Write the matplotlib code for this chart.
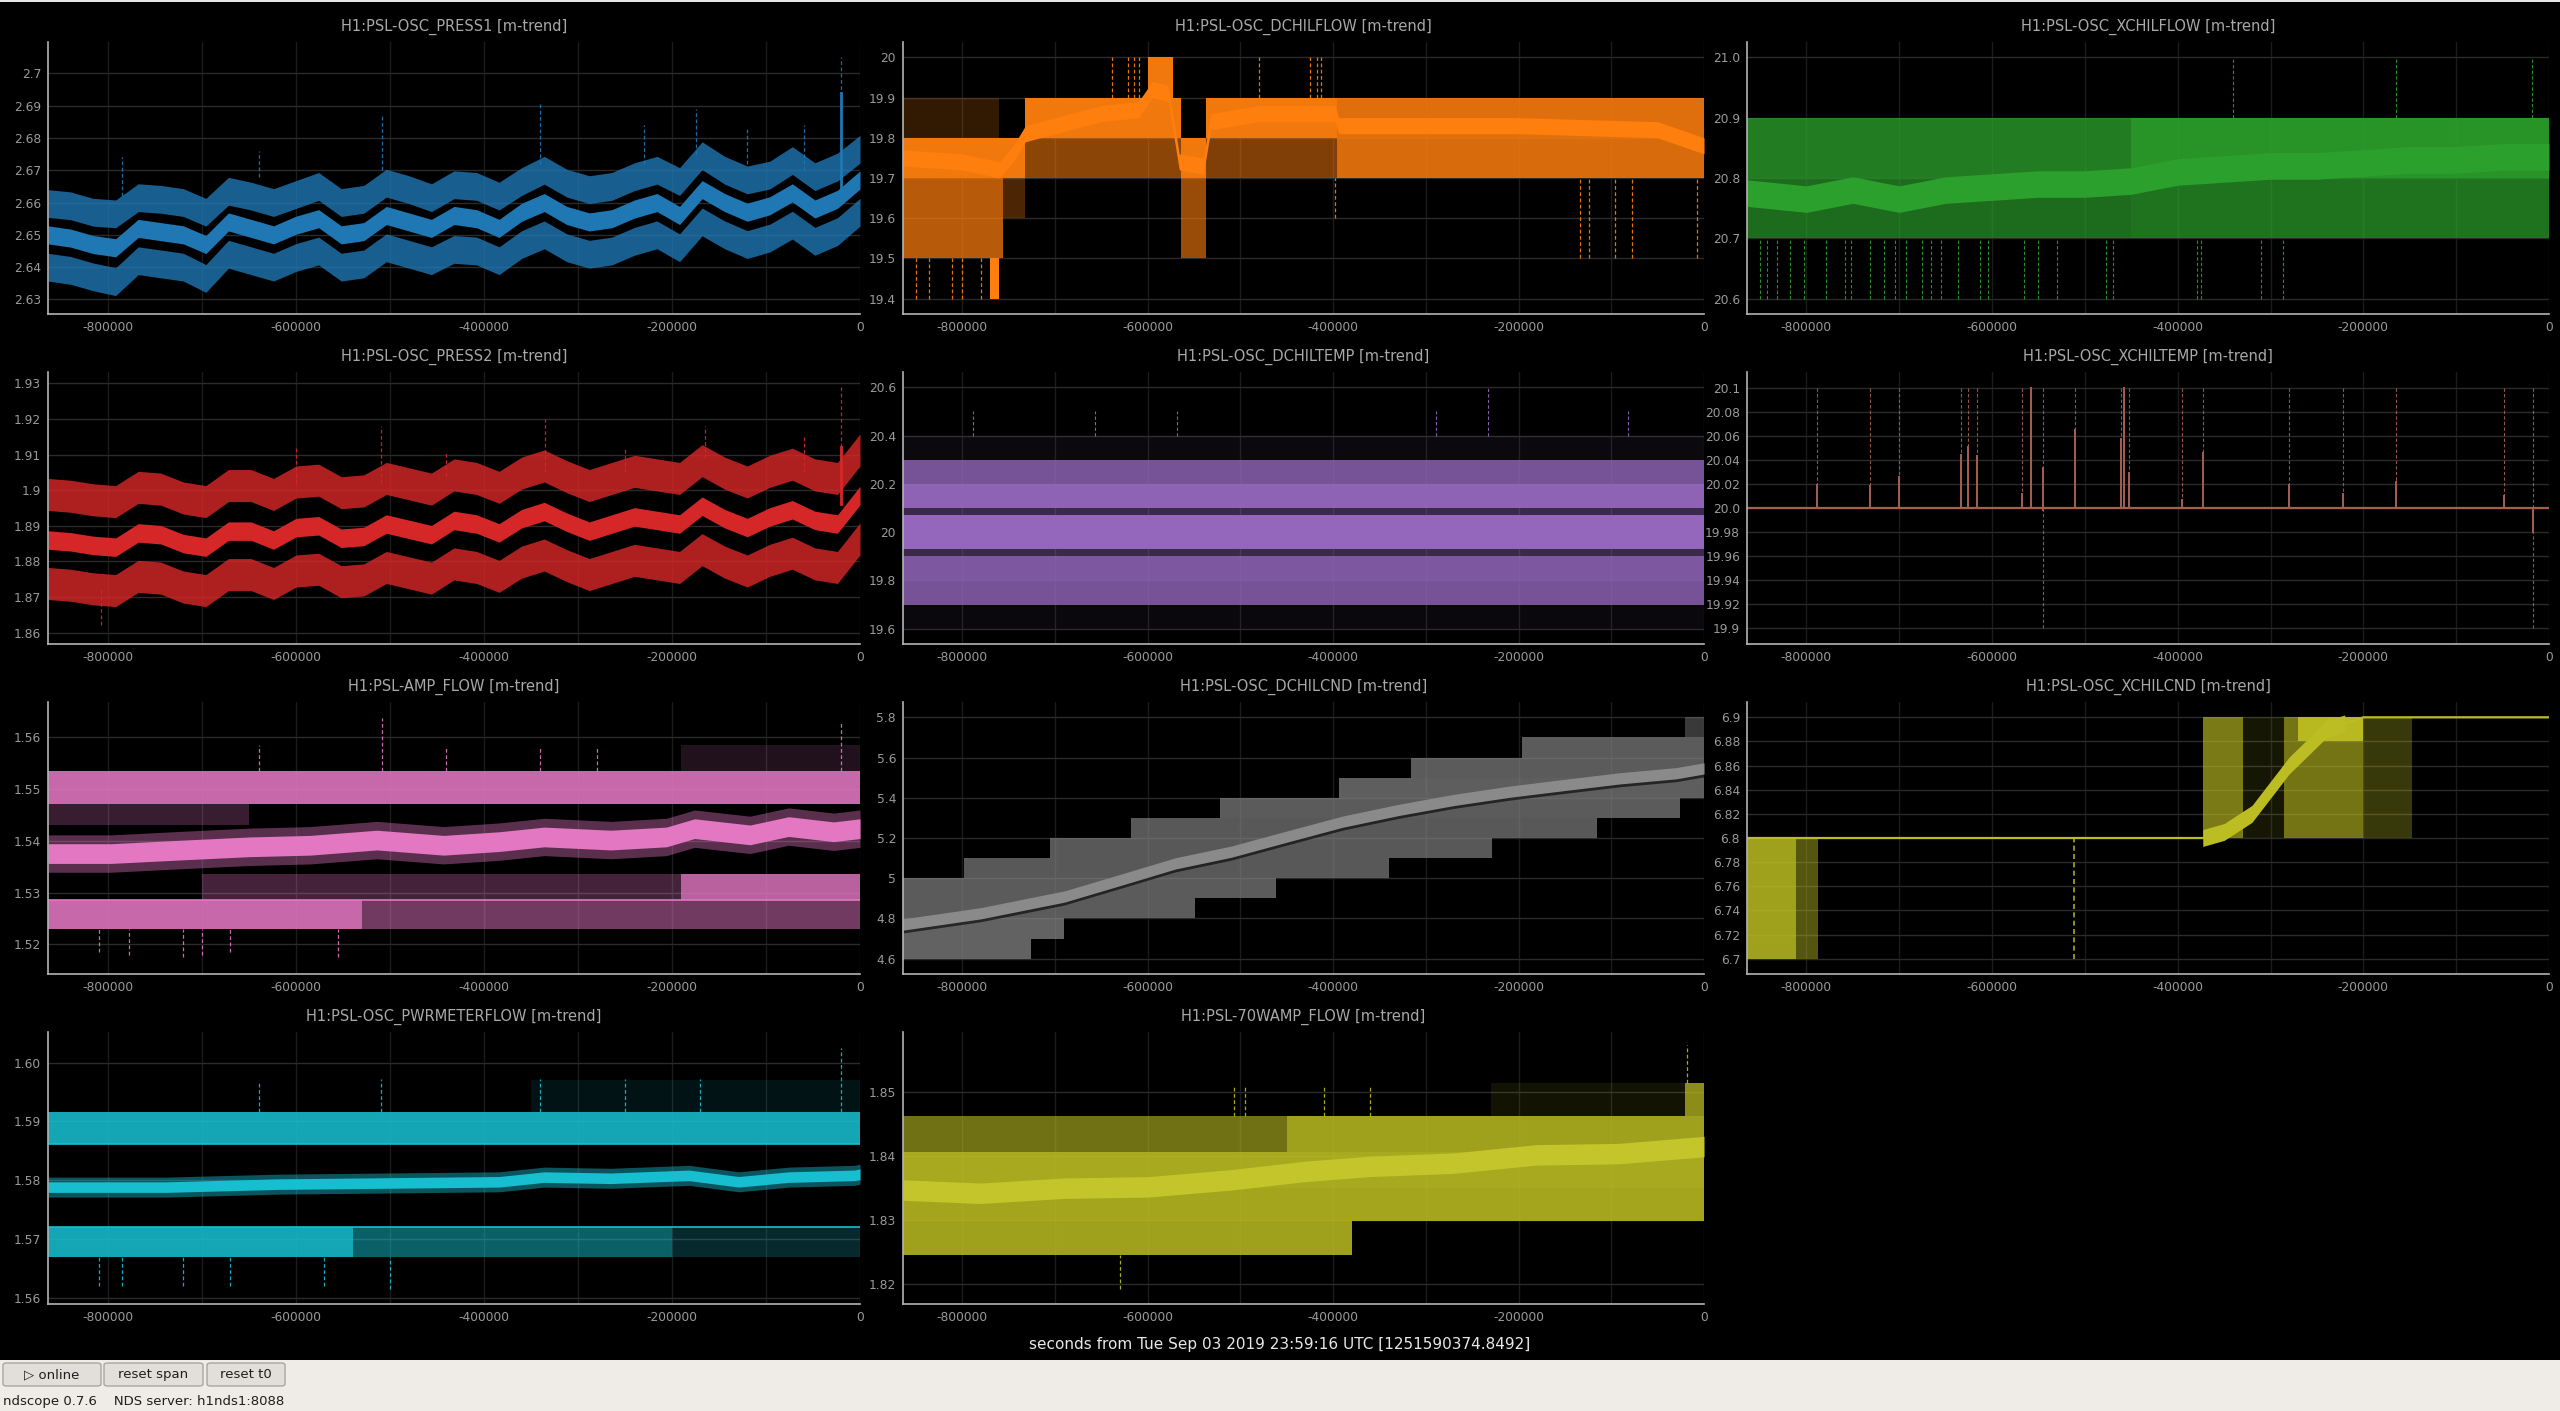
import matplotlib
matplotlib.use("Agg")
import matplotlib.pyplot as plt
from matplotlib.patches import Rectangle, FancyBboxPatch

plt.rcParams['font.family'] = ['DejaVu Sans']

# ---------------------------------------------------------------- data
T_K = [-864, -840, -816, -792, -768, -744, -720, -696, -672, -648, -624, -600,
       -576, -552, -528, -504, -480, -456, -432, -408, -384, -360, -336, -312,
       -288, -264, -240, -216, -192, -168, -144, -120, -96, -72, -48, -24, 0]
T_SPAN = [-864000, 0]
X_TICKS = [-800000, -600000, -400000, -200000, 0]
X_TICK_LABELS = ['-800000', '-600000', '-400000', '-200000', '0']
X_GRID = [-800000, -700000, -600000, -500000, -400000, -300000, -200000, -100000]
X_LABEL = 'seconds from Tue Sep 03 2019 23:59:16 UTC [1251590374.8492]'

# PRESS1 (m-trend: mean / max / min)
PRESS1_MEAN = [2.650, 2.649, 2.647, 2.646, 2.652, 2.651, 2.650, 2.647, 2.654, 2.652, 2.650, 2.653,
               2.655, 2.650, 2.651, 2.656, 2.654, 2.652, 2.656, 2.655, 2.652, 2.657, 2.660, 2.656,
               2.654, 2.655, 2.658, 2.660, 2.656, 2.664, 2.660, 2.657, 2.659, 2.663, 2.658, 2.661, 2.667]
PRESS1_MAX = [2.6597, 2.6590, 2.6570, 2.6565, 2.6615, 2.6610, 2.6600, 2.6570, 2.6635, 2.6620, 2.6600, 2.6625,
              2.6650, 2.6600, 2.6610, 2.6660, 2.6640, 2.6615, 2.6655, 2.6650, 2.6620, 2.6665, 2.6700, 2.6660,
              2.6640, 2.6650, 2.6680, 2.6700, 2.6665, 2.6745, 2.6700, 2.6670, 2.6685, 2.6730, 2.6680, 2.6710, 2.6765]
PRESS1_MIN = [2.6400, 2.6390, 2.6370, 2.6355, 2.6420, 2.6410, 2.6400, 2.6365, 2.6440, 2.6420, 2.6400, 2.6430,
              2.6450, 2.6400, 2.6410, 2.6460, 2.6440, 2.6420, 2.6455, 2.6450, 2.6420, 2.6470, 2.6500, 2.6460,
              2.6440, 2.6450, 2.6480, 2.6500, 2.6460, 2.6540, 2.6500, 2.6470, 2.6490, 2.6530, 2.6480, 2.6510, 2.6570]
PRESS1_SPIKES = [(-20000, 2.668, 2.705), (-509000, 2.670, 2.687), (-340000, 2.672, 2.691),
                 (-175000, 2.675, 2.689), (-60000, 2.670, 2.684), (-785000, 2.662, 2.674),
                 (-640000, 2.668, 2.676), (-230000, 2.672, 2.684), (-120000, 2.672, 2.683)]
PRESS1_TICKS = [2.63, 2.64, 2.65, 2.66, 2.67, 2.68, 2.69, 2.70]
PRESS1_LABELS = ['2.63', '2.64', '2.65', '2.66', '2.67', '2.68', '2.69', '2.7']

# PRESS2
PRESS2_MEAN = [1.8860, 1.8855, 1.8845, 1.8840, 1.8880, 1.8875, 1.8850, 1.8840, 1.8885, 1.8885, 1.8860, 1.8895,
               1.8900, 1.8865, 1.8870, 1.8905, 1.8890, 1.8875, 1.8915, 1.8905, 1.8880, 1.8920, 1.8940, 1.8910,
               1.8885, 1.8905, 1.8925, 1.8915, 1.8905, 1.8955, 1.8920, 1.8895, 1.8925, 1.8945, 1.8915, 1.8905, 1.8985]
PRESS2_MAX = [1.8988, 1.8983, 1.8973, 1.8968, 1.9008, 1.9003, 1.8978, 1.8968, 1.9013, 1.9013, 1.8988, 1.9023,
              1.9028, 1.8993, 1.8998, 1.9033, 1.9018, 1.9003, 1.9043, 1.9033, 1.9008, 1.9048, 1.9068, 1.9038,
              1.9013, 1.9033, 1.9053, 1.9043, 1.9033, 1.9083, 1.9048, 1.9023, 1.9053, 1.9073, 1.9043, 1.9033, 1.9113]
PRESS2_MIN = [1.8738, 1.8733, 1.8723, 1.8718, 1.8758, 1.8753, 1.8728, 1.8718, 1.8763, 1.8763, 1.8738, 1.8773,
              1.8778, 1.8743, 1.8748, 1.8783, 1.8768, 1.8753, 1.8793, 1.8783, 1.8758, 1.8798, 1.8818, 1.8788,
              1.8763, 1.8783, 1.8803, 1.8793, 1.8783, 1.8833, 1.8798, 1.8773, 1.8803, 1.8823, 1.8793, 1.8783, 1.8863]
PRESS2_SPIKES = [(-20000, 1.898, 1.929), (-510000, 1.902, 1.918), (-335000, 1.905, 1.920),
                 (-165000, 1.909, 1.918), (-808000, 1.862, 1.872), (-60000, 1.905, 1.915),
                 (-600000, 1.902, 1.912), (-440000, 1.904, 1.911), (-250000, 1.905, 1.912)]
PRESS2_TICKS = [1.86, 1.87, 1.88, 1.89, 1.90, 1.91, 1.92, 1.93]
PRESS2_LABELS = ['1.86', '1.87', '1.88', '1.89', '1.9', '1.91', '1.92', '1.93']

# DCHILFLOW: bands (t0, t1, lo, hi) and how densely they are filled
DCHILFLOW_BANDS = [(-864000, -756000, 19.5, 19.7), (-864000, -732000, 19.7, 19.8),
                   (-864000, -760000, 19.8, 19.9), (-732000, -564000, 19.7, 19.8),
                   (-732000, -564000, 19.8, 19.9), (-600000, -573000, 19.9, 20.0),
                   (-564000, -537000, 19.7, 19.8), (-564000, -537000, 19.5, 19.7),
                   (-537000, -396000, 19.8, 19.9), (-537000, -396000, 19.7, 19.8),
                   (-396000, 0, 19.8, 19.9), (-396000, 0, 19.7, 19.8),
                   (-770000, -760000, 19.4, 19.5), (-756000, -732000, 19.6, 19.7)]
DCHILFLOW_DENSITY = [0.72, 0.95, 0.2, 0.55, 0.95, 0.95, 0.95, 0.6, 0.95, 0.5, 0.88, 0.85, 1.0, 0.3]
DCHILFLOW_MEAN_T = [-864000, -800000, -760000, -745000, -732000, -700000, -650000, -610000, -595000, -578000,
                    -566000, -540000, -532000, -480000, -420000, -398000, -394000, -200000, -50000, 0]
DCHILFLOW_MEAN_V = [19.75, 19.74, 19.72, 19.76, 19.81, 19.83, 19.86, 19.87, 19.92, 19.91,
                    19.74, 19.73, 19.84, 19.86, 19.86, 19.86, 19.83, 19.83, 19.82, 19.78]
DCHILFLOW_SPIKES = [(-639000, 19.9, 20.0), (-621000, 19.9, 20.0), (-615000, 19.9, 20.0), (-609000, 19.9, 20.0),
                    (-480500, 19.9, 20.0), (-425400, 19.9, 20.0), (-417600, 19.9, 20.0), (-413500, 19.9, 20.0),
                    (-133400, 19.5, 19.7), (-124400, 19.5, 19.7), (-95700, 19.5, 19.7), (-77700, 19.5, 19.7),
                    (-7800, 19.5, 19.7), (-397900, 19.6, 19.7), (-850000, 19.4, 19.5), (-836000, 19.4, 19.5),
                    (-811000, 19.4, 19.5), (-800500, 19.4, 19.5), (-779600, 19.4, 19.5)]
DCHILFLOW_TICKS = [19.4, 19.5, 19.6, 19.7, 19.8, 19.9, 20.0]
DCHILFLOW_LABELS = ['19.4', '19.5', '19.6', '19.7', '19.8', '19.9', '20']

# XCHILFLOW
XCHILFLOW_BANDS = [(-864000, -450000, 20.8, 20.9), (-864000, -450000, 20.7, 20.8),
                   (-450000, 0, 20.8, 20.9), (-450000, 0, 20.7, 20.8)]
XCHILFLOW_DENSITY = [0.78, 0.68, 0.93, 0.72]
XCHILFLOW_MEAN_T = [-864000, -800000, -750000, -700000, -650000, -600000, -550000, -500000, -450000,
                    -400000, -350000, -300000, -250000, -200000, -150000, -100000, -50000, 0]
XCHILFLOW_MEAN_V = [20.775, 20.765, 20.78, 20.765, 20.78, 20.785, 20.79, 20.79, 20.795,
                    20.81, 20.815, 20.82, 20.82, 20.825, 20.83, 20.83, 20.835, 20.835]
XCHILFLOW_SPIKES = [(-340000, 20.9, 21.0), (-165000, 20.9, 21.0), (-18000, 20.9, 21.0)] + \
    [(t, 20.6, 20.7) for t in (-849800, -842700, -832000, -817300, -802500, -778800, -758000, -752200,
                               -731400, -716600, -704800, -693000, -675200, -666300, -654500, -636800,
                               -613100, -604200, -566000, -551000, -530200, -477000, -469900, -379300,
                               -375200, -310100, -286400)]
XCHILFLOW_TICKS = [20.6, 20.7, 20.8, 20.9, 21.0]
XCHILFLOW_LABELS = ['20.6', '20.7', '20.8', '20.9', '21.0']

# DCHILTEMP (full-width quantised bands)
DCHILTEMP_LO = [20.3, 20.2, 20.1, 20.07, 19.93, 19.9, 19.8, 19.7, 19.6]
DCHILTEMP_HI = [20.4, 20.3, 20.2, 20.1, 20.07, 19.93, 19.9, 19.8, 19.7]
DCHILTEMP_DENSITY = [0.08, 0.8, 0.97, 0.4, 1.0, 0.4, 0.85, 0.8, 0.07]
DCHILTEMP_SPIKES = [(-788000, 20.4, 20.5), (-657000, 20.4, 20.5), (-568800, 20.4, 20.5),
                    (-289600, 20.4, 20.5), (-232800, 20.4, 20.6), (-82000, 20.4, 20.5)]
DCHILTEMP_TICKS = [19.6, 19.8, 20.0, 20.2, 20.4, 20.6]
DCHILTEMP_LABELS = ['19.6', '19.8', '20', '20.2', '20.4', '20.6']

# XCHILTEMP: flat 20.0 with spikes
XCHILTEMP_LEVEL = 20.0
XCHILTEMP_SPIKE_T = [-788500, -731100, -700400, -633300, -625400, -615700, -568000, -558300, -544600, -510500,
                     -461600, -457600, -452500, -395100, -372400, -280300, -222300, -164900, -48900, -17600]
XCHILTEMP_SPIKE_TOP = [20.019, 20.018, 20.026, 20.044, 20.051, 20.043, 20.012, 20.1, 20.033, 20.065,
                       20.057, 20.1, 20.029, 20.007, 20.046, 20.019, 20.012, 20.022, 20.01, 20.0]
XCHILTEMP_MAX = 20.1
XCHILTEMP_DOWN_T = [-544600, -17600]
XCHILTEMP_DOWN_BOTTOM = [19.998, 19.98]
XCHILTEMP_MIN = 19.9
XCHILTEMP_TICKS = [19.90, 19.92, 19.94, 19.96, 19.98, 20.00, 20.02, 20.04, 20.06, 20.08, 20.10]
XCHILTEMP_LABELS = ['19.9', '19.92', '19.94', '19.96', '19.98', '20.0', '20.02', '20.04', '20.06', '20.08', '20.1']

# AMP_FLOW
AMP_BANDS = [(-864000, 0, 1.5470, 1.5535), (-864000, -650000, 1.5430, 1.5470),
             (-864000, -530000, 1.5230, 1.5285), (-530000, 0, 1.5230, 1.5285),
             (-700000, -190000, 1.5285, 1.5335), (-190000, 0, 1.5285, 1.5335),
             (-190000, 0, 1.5535, 1.5585)]
AMP_DENSITY = [0.88, 0.25, 0.88, 0.5, 0.3, 0.82, 0.15]
AMP_MEAN_T = [-864000, -797000, -720000, -650000, -585000, -514000, -443000, -384000,
              -336000, -265000, -206000, -176000, -117000, -76000, -28000, 0]
AMP_MEAN_V = [1.5375, 1.5375, 1.5382, 1.5388, 1.5391, 1.5401, 1.5391, 1.5398,
              1.5407, 1.5401, 1.5407, 1.5423, 1.5411, 1.5427, 1.5417, 1.5423]
AMP_SPIKES = [(-509000, 1.5535, 1.5637), (-20000, 1.5535, 1.5630), (-640000, 1.5535, 1.5585),
              (-810000, 1.5185, 1.5230), (-778000, 1.5180, 1.5230), (-720000, 1.5175, 1.5230),
              (-700000, 1.5180, 1.5230), (-670000, 1.5185, 1.5230), (-555000, 1.5175, 1.5230),
              (-440000, 1.5535, 1.5580), (-340000, 1.5535, 1.5582), (-280000, 1.5535, 1.5580)]
AMP_TICKS = [1.52, 1.53, 1.54, 1.55, 1.56]
AMP_LABELS = ['1.52', '1.53', '1.54', '1.55', '1.56']

# DCHILCND: staircase of quantised min/max bands and a rising mean
DCHILCND_BANDS = [(-864000, -726000, 4.6, 4.7), (-864000, -690000, 4.7, 4.8), (-864000, -549000, 4.8, 4.9),
                  (-864000, -462000, 4.9, 5.0), (-798000, -340000, 5.0, 5.1), (-705000, -229000, 5.1, 5.2),
                  (-618000, -115000, 5.2, 5.3), (-522000, -26000, 5.3, 5.4), (-394000, 0, 5.4, 5.5),
                  (-316000, 0, 5.5, 5.6), (-196000, 0, 5.6, 5.7), (-20000, 0, 5.7, 5.8)]
DCHILCND_DENSITY = [0.78, 0.78, 0.72, 0.72, 0.7, 0.7, 0.7, 0.72, 0.75, 0.72, 0.72, 0.45]
DCHILCND_MEAN_T = [-864000, -780000, -690000, -630000, -570000, -510000, -450000, -390000,
                   -330000, -270000, -210000, -150000, -90000, -30000, 0]
DCHILCND_MEAN_V = [4.77, 4.826, 4.909, 4.991, 5.074, 5.132, 5.207, 5.281,
                   5.339, 5.389, 5.43, 5.464, 5.497, 5.522, 5.546]
DCHILCND_TICKS = [4.6, 4.8, 5.0, 5.2, 5.4, 5.6, 5.8]
DCHILCND_LABELS = ['4.6', '4.8', '5', '5.2', '5.4', '5.6', '5.8']

# XCHILCND
XCHILCND_BANDS = [(-864000, -811000, 6.70, 6.80), (-811000, -788000, 6.70, 6.80),
                  (-373000, -330000, 6.80, 6.90), (-330000, -285000, 6.80, 6.90),
                  (-285000, -200000, 6.80, 6.90), (-200000, -148000, 6.80, 6.90),
                  (-270000, -200000, 6.88, 6.90)]
XCHILCND_DENSITY = [0.85, 0.45, 0.65, 0.12, 0.62, 0.3, 0.95]
XCHILCND_MEAN_T = [-864000, -373000, -350000, -320000, -300000, -280000, -260000, -240000, -220000, -200000, 0]
XCHILCND_MEAN_V = [6.80, 6.80, 6.805, 6.82, 6.84, 6.86, 6.875, 6.89, 6.895, 6.90, 6.90]
XCHILCND_SPIKES = [(-512000, 6.70, 6.80)]
XCHILCND_TICKS = [6.70, 6.72, 6.74, 6.76, 6.78, 6.80, 6.82, 6.84, 6.86, 6.88, 6.90]
XCHILCND_LABELS = ['6.7', '6.72', '6.74', '6.76', '6.78', '6.8', '6.82', '6.84', '6.86', '6.88', '6.9']

# PWRMETERFLOW
PWR_BANDS = [(-864000, 0, 1.5861, 1.5916), (-864000, -540000, 1.5669, 1.5720),
             (-540000, -200000, 1.5669, 1.5720), (-200000, 0, 1.5669, 1.5720),
             (-350000, 0, 1.5916, 1.5970)]
PWR_DENSITY = [0.88, 0.88, 0.5, 0.22, 0.1]
PWR_MEAN_T = [-864000, -738000, -620000, -502000, -384000, -336000, -265000, -182000, -129000, -76000, -6000, 0]
PWR_MEAN_V = [1.5788, 1.5788, 1.5793, 1.5795, 1.5797, 1.5805, 1.5803, 1.5808, 1.5797, 1.5805, 1.5808, 1.5810]
PWR_SPIKES = [(-20000, 1.5916, 1.6025), (-640000, 1.5916, 1.5965), (-510000, 1.5916, 1.5972),
              (-810000, 1.562, 1.5669), (-785000, 1.562, 1.5669), (-720000, 1.562, 1.5669),
              (-670000, 1.562, 1.5669), (-570000, 1.562, 1.5669), (-500000, 1.5615, 1.5669),
              (-340000, 1.5916, 1.5972), (-250000, 1.5916, 1.5972), (-170000, 1.5916, 1.5972)]
PWR_TICKS = [1.56, 1.57, 1.58, 1.59, 1.60]
PWR_LABELS = ['1.56', '1.57', '1.58', '1.59', '1.60']

# 70WAMP_FLOW
W70_BANDS = [(-864000, -450000, 1.8406, 1.8461), (-450000, 0, 1.8406, 1.8461),
             (-864000, 0, 1.8349, 1.8406), (-864000, 0, 1.8297, 1.8349),
             (-864000, -380000, 1.8244, 1.8297), (-20000, 0, 1.8461, 1.8513),
             (-230000, -20000, 1.8461, 1.8513)]
W70_DENSITY = [0.6, 0.85, 0.9, 0.88, 0.85, 0.75, 0.1]
W70_MEAN_T = [-864000, -780000, -690000, -600000, -510000, -432000, -361000, -271000, -181000, -92000, 0]
W70_MEAN_V = [1.8346, 1.8341, 1.8349, 1.8351, 1.8362, 1.8375, 1.8383, 1.8388, 1.8401, 1.8403, 1.8414]
W70_SPIKES = [(-630000, 1.8192, 1.8244), (-18000, 1.8513, 1.8573), (-507000, 1.8461, 1.8510),
              (-495000, 1.8461, 1.8510), (-410000, 1.8461, 1.8510), (-360000, 1.8461, 1.8510)]
W70_TICKS = [1.82, 1.83, 1.84, 1.85]
W70_LABELS = ['1.82', '1.83', '1.84', '1.85']

# ---------------------------------------------------------------- colours
BLUE, ORANGE, GREEN, RED = '#1f77b4', '#ff7f0e', '#2ca02c', '#d62728'
PURPLE, BROWN, PINK, GRAY = '#9467bd', '#a55f52', '#e377c2', '#7f7f7f'
OLIVE, CYAN = '#bcbd22', '#17becf'

# ---------------------------------------------------------------- layout
W, H = 2560, 1411
fig = plt.figure(figsize=(W / 100, H / 100), dpi=100, facecolor='black')
COL_X = [(48, 860), (903, 1704), (1747, 2549)]
ROW_Y = [(42, 314), (372, 644), (702, 974), (1032, 1304)]

T = [k * 1000 for k in T_K]


def make_axes(col, row, title, ylim, yticks, ylabels):
    l, r = COL_X[col]
    t, b = ROW_Y[row]
    ax = fig.add_axes([l / W, 1 - b / H, (r - l) / W, (b - t) / H])
    ax.set_facecolor('black')
    ax.set_xlim(T_SPAN)
    ax.set_ylim(ylim)
    ax.set_xticks(X_TICKS)
    ax.set_xticklabels(X_TICK_LABELS)
    ax.set_xticks(X_GRID, minor=True)
    ax.set_yticks(yticks)
    ax.set_yticklabels(ylabels)
    ax.tick_params(which='both', length=0, colors='#9a9a9a', labelsize=8.8, pad=5)
    for s in ('top', 'right'):
        ax.spines[s].set_visible(False)
    for s in ('left', 'bottom'):
        ax.spines[s].set_color('#b4b4b4')
        ax.spines[s].set_linewidth(1.2)
    ax.set_axisbelow(True)
    ax.grid(which='both', axis='x', color='#1c1c1c', lw=1)
    ax.grid(which='major', axis='y', color='#2a2a2a', lw=1)
    fig.text((l + r) / 2 / W, 1 - (t - 15) / H, title, ha='center', va='center',
             color='#a8a8a8', fontsize=10.5)
    return ax


def bands(ax, spec, dens, color):
    for (t0, t1, lo, hi), a in zip(spec, dens):
        ax.fill_between([t0, t1], [lo, lo], [hi, hi], color=color, alpha=a, lw=0)


def spikes(ax, spec, color, lw=0.9):
    for t, y0, y1 in spec:
        ax.plot([t, t], [y0, y1], color=color, lw=lw, ls=(0, (3, 2)), alpha=0.9)


def wavy(ax, center, hw, color, alpha):
    lo = [c - hw for c in center]
    hi = [c + hw for c in center]
    ax.fill_between(T, lo, hi, color=color, alpha=alpha, lw=0)


def mean_band(ax, ts, vs, hw, color, alpha=1.0):
    ax.fill_between(ts, [v - hw for v in vs], [v + hw for v in vs], color=color, alpha=alpha, lw=0)


# ---- row 0
ax = make_axes(0, 0, 'H1:PSL-OSC_PRESS1 [m-trend]', (2.6255, 2.7097), PRESS1_TICKS, PRESS1_LABELS)
wavy(ax, PRESS1_MAX, 0.0043, BLUE, 0.8)
wavy(ax, PRESS1_MIN, 0.0043, BLUE, 0.8)
wavy(ax, PRESS1_MEAN, 0.0028, BLUE, 1.0)
spikes(ax, PRESS1_SPIKES, BLUE)
ax.plot([-20000, -20000], [2.660, 2.694], color=BLUE, lw=2)

ax = make_axes(1, 0, 'H1:PSL-OSC_DCHILFLOW [m-trend]', (19.362, 20.038), DCHILFLOW_TICKS, DCHILFLOW_LABELS)
bands(ax, DCHILFLOW_BANDS, DCHILFLOW_DENSITY, ORANGE)
mean_band(ax, DCHILFLOW_MEAN_T, DCHILFLOW_MEAN_V, 0.02, ORANGE)
spikes(ax, DCHILFLOW_SPIKES, ORANGE)

ax = make_axes(2, 0, 'H1:PSL-OSC_XCHILFLOW [m-trend]', (20.5746, 21.0254), XCHILFLOW_TICKS, XCHILFLOW_LABELS)
bands(ax, XCHILFLOW_BANDS, XCHILFLOW_DENSITY, GREEN)
mean_band(ax, XCHILFLOW_MEAN_T, XCHILFLOW_MEAN_V, 0.022, GREEN)
spikes(ax, XCHILFLOW_SPIKES, GREEN, lw=0.8)

# ---- row 1
ax = make_axes(0, 1, 'H1:PSL-OSC_PRESS2 [m-trend]', (1.8568, 1.9332), PRESS2_TICKS, PRESS2_LABELS)
wavy(ax, PRESS2_MAX, 0.0045, RED, 0.82)
wavy(ax, PRESS2_MIN, 0.0045, RED, 0.82)
wavy(ax, PRESS2_MEAN, 0.0026, RED, 1.0)
spikes(ax, PRESS2_SPIKES, RED)
ax.plot([-20000, -20000], [1.896, 1.912], color=RED, lw=2)

ax = make_axes(1, 1, 'H1:PSL-OSC_DCHILTEMP [m-trend]', (19.537, 20.663), DCHILTEMP_TICKS, DCHILTEMP_LABELS)
for lo, hi, a in zip(DCHILTEMP_LO, DCHILTEMP_HI, DCHILTEMP_DENSITY):
    ax.fill_between(T_SPAN, [lo, lo], [hi, hi], color=PURPLE, alpha=a, lw=0)
spikes(ax, DCHILTEMP_SPIKES, PURPLE, lw=0.8)

ax = make_axes(2, 1, 'H1:PSL-OSC_XCHILTEMP [m-trend]', (19.887, 20.113), XCHILTEMP_TICKS, XCHILTEMP_LABELS)
ax.plot(T_SPAN, [XCHILTEMP_LEVEL, XCHILTEMP_LEVEL], color=BROWN, lw=1.6)
for t, top in zip(XCHILTEMP_SPIKE_T, XCHILTEMP_SPIKE_TOP):
    ax.plot([t, t], [XCHILTEMP_LEVEL, XCHILTEMP_MAX], color=BROWN, lw=0.8, ls=(0, (3, 2)), alpha=0.9)
    ax.plot([t, t], [XCHILTEMP_LEVEL, top], color=BROWN, lw=1.4)
for t, bot in zip(XCHILTEMP_DOWN_T, XCHILTEMP_DOWN_BOTTOM):
    ax.plot([t, t], [XCHILTEMP_MIN, XCHILTEMP_LEVEL], color=BROWN, lw=0.8, ls=(0, (3, 2)), alpha=0.9)
    ax.plot([t, t], [bot, XCHILTEMP_LEVEL], color=BROWN, lw=1.4)

# ---- row 2
ax = make_axes(0, 2, 'H1:PSL-AMP_FLOW [m-trend]', (1.5143, 1.5667), AMP_TICKS, AMP_LABELS)
bands(ax, AMP_BANDS, AMP_DENSITY, PINK)
ax.plot(T_SPAN, [1.5285, 1.5285], color=PINK, lw=1.2)
mean_band(ax, AMP_MEAN_T, AMP_MEAN_V, 0.0036, PINK, 0.4)
mean_band(ax, AMP_MEAN_T, AMP_MEAN_V, 0.0019, PINK, 1.0)
spikes(ax, AMP_SPIKES, PINK)

ax = make_axes(1, 2, 'H1:PSL-OSC_DCHILCND [m-trend]', (4.524, 5.876), DCHILCND_TICKS, DCHILCND_LABELS)
bands(ax, DCHILCND_BANDS, DCHILCND_DENSITY, GRAY)
mean_band(ax, DCHILCND_MEAN_T, [v - 0.03 for v in DCHILCND_MEAN_V], 0.012, 'black', 0.6)
mean_band(ax, DCHILCND_MEAN_T, DCHILCND_MEAN_V, 0.028, '#8a8a8a', 1.0)

ax = make_axes(2, 2, 'H1:PSL-OSC_XCHILCND [m-trend]', (6.6873, 6.9127), XCHILCND_TICKS, XCHILCND_LABELS)
bands(ax, XCHILCND_BANDS, XCHILCND_DENSITY, OLIVE)
ax.plot(XCHILCND_MEAN_T, XCHILCND_MEAN_V, color=OLIVE, lw=1.6)
mean_band(ax, XCHILCND_MEAN_T[1:9], XCHILCND_MEAN_V[1:9], 0.007, OLIVE, 1.0)
spikes(ax, XCHILCND_SPIKES, OLIVE, lw=1.2)

# ---- row 3
ax = make_axes(0, 3, 'H1:PSL-OSC_PWRMETERFLOW [m-trend]', (1.5589, 1.6052), PWR_TICKS, PWR_LABELS)
bands(ax, PWR_BANDS, PWR_DENSITY, CYAN)
ax.plot(T_SPAN, [1.5720, 1.5720], color=CYAN, lw=1.2)
ax.plot(T_SPAN, [1.5861, 1.5861], color=CYAN, lw=1.2)
mean_band(ax, PWR_MEAN_T, PWR_MEAN_V, 0.0017, CYAN, 0.45)
mean_band(ax, PWR_MEAN_T, PWR_MEAN_V, 0.0009, CYAN, 1.0)
spikes(ax, PWR_SPIKES, CYAN)

ax = make_axes(1, 3, 'H1:PSL-70WAMP_FLOW [m-trend]', (1.8168, 1.8593), W70_TICKS, W70_LABELS)
bands(ax, W70_BANDS, W70_DENSITY, OLIVE)
mean_band(ax, W70_MEAN_T, W70_MEAN_V, 0.0016, '#c4c52a', 1.0)
spikes(ax, W70_SPIKES, OLIVE)

# ---------------------------------------------------------------- chrome
fig.text(0.5, 1 - 1345 / H, X_LABEL, ha='center', va='center', color='#e8e8e8', fontsize=11)

fig.patches.append(Rectangle((0, 1 - 2 / H), 1, 2 / H, transform=fig.transFigure,
                             facecolor='#e6e6e6', edgecolor='none'))
fig.patches.append(Rectangle((0, 0), 1, (H - 1360) / H, transform=fig.transFigure,
                             facecolor='#efebe7', edgecolor='none'))
for x0, x1, label in [(3, 101, '\u25b7 online'), (104, 203, 'reset span'), (207, 285, 'reset t0')]:
    y0, y1 = 1363, 1386
    fig.patches.append(FancyBboxPatch((x0 / W, 1 - y1 / H), (x1 - x0) / W, (y1 - y0) / H,
                                      boxstyle='round,pad=0,rounding_size=0.0015',
                                      transform=fig.transFigure, facecolor='#e2dfdb',
                                      edgecolor='#a9a6a2', lw=1))
    fig.text((x0 + x1) / 2 / W, 1 - (y0 + y1) / 2 / H, label, ha='center', va='center',
             color='#1e1e1e', fontsize=9.5)
fig.text(3 / W, 1 - 1401 / H, 'ndscope 0.7.6    NDS server: h1nds1:8088', ha='left', va='center',
         color='#1e1e1e', fontsize=9.5)

fig.savefig('out.png', dpi=100, facecolor='black')
